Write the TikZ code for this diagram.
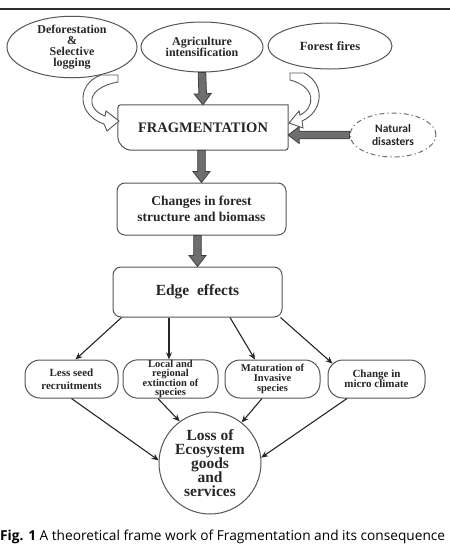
\documentclass[tikz,border=0pt]{standalone}
\usepackage{fontspec}
\setmainfont{Liberation Serif}
\newfontfamily\capfont{Open Sans}
\newfontfamily\natfont{Carlito}
\usetikzlibrary{shapes.geometric,arrows.meta,calc}
\setlength{\lineskiplimit}{-100pt}
\definecolor{ink}{HTML}{262626}
\definecolor{edgecol}{HTML}{555555}
\definecolor{blockfill}{HTML}{6E6E6E}
\definecolor{blockline}{HTML}{3F3F3F}
\definecolor{rulecol}{HTML}{2E2E2E}
\tikzset{
  oval/.style={ellipse, draw=edgecol, line width=1pt, inner sep=0pt, text=ink, align=center,
    font=\bfseries\fontsize{12}{10.8}\selectfont},
  natoval/.style={ellipse, draw=edgecol!85, line width=1pt, inner sep=0pt, text=ink, align=center,
    dash pattern=on 5pt off 3pt on 1.2pt off 3pt, font=\natfont\bfseries\fontsize{11.5}{13}\selectfont},
  plainbox/.style={rectangle, inner sep=0pt, text=ink, align=center},
  roundbox/.style={rectangle, rounded corners=8pt, draw=edgecol, line width=1pt, inner sep=0pt, text=ink, align=center},
  pill/.style={rectangle, rounded corners=15pt, draw=edgecol, line width=1pt, inner sep=0pt, text=ink, align=center,
    minimum height=38pt, font=\bfseries\fontsize{10.5}{9.6}\selectfont},
  thinarrow/.style={draw=ink, line width=1.1pt, -{Stealth[length=7pt,width=6pt]}},
  blockarrowstyle/.style={draw=blockline, fill=blockfill, line width=0.8pt, line join=miter},
  hollowarrow/.style={draw=edgecol, fill=white, line width=0.9pt, line join=miter},
  toprule/.style={draw=rulecol, line width=1.6pt}
}
\newcommand\blockarrow[2]{%
  \coordinate (ba-h) at ($(#2)!11pt!(#1)$);
  \draw[blockarrowstyle] ($(#1)!3.8pt!90:(#2)$) -- ($(ba-h)!3.8pt!90:(#2)$) -- ($(ba-h)!8.5pt!90:(#2)$)
    -- (#2) -- ($(ba-h)!8.5pt!-90:(#2)$) -- ($(ba-h)!3.8pt!-90:(#2)$) -- ($(#1)!3.8pt!-90:(#2)$) -- cycle;}
\begin{document}
\begin{tikzpicture}[x=1pt,y=-1pt]
\useasboundingbox (0,0) rectangle (450,547);
\coordinate (ruleL) at (0,9);
\coordinate (ruleR) at (450,9);
\draw[toprule] (ruleL) -- (ruleR);

% top causes
\node[oval, minimum width=130pt, minimum height=46pt] (defo) at (72,47) {Deforestation\\\&\\Selective\\logging};
\node[oval, minimum width=122pt, minimum height=50pt] (agri) at (202,47) {Agriculture\\intensification};
\node[oval, minimum width=124pt, minimum height=46pt, font=\bfseries\fontsize{12.5}{14}\selectfont] (fire) at (330,46) {Forest fires};
\node[natoval, minimum width=86pt, minimum height=44pt] (nat) at (393,135) {Natural\\disasters};

% fragmentation box
\node[plainbox, minimum width=170pt, minimum height=45pt, font=\bfseries\fontsize{14.5}{16}\selectfont] (frag) at (203,127.5) {FRAGMENTATION};
\draw[draw=edgecol, line width=1pt] (frag.north) -- (frag.north east) [rounded corners=3pt] -- (frag.south east)
  [rounded corners=14pt] -- (frag.south west) [rounded corners=3pt] -- (frag.north west) [rounded corners=14pt] -- cycle;

% chain
\node[roundbox, minimum width=169pt, minimum height=52pt, font=\bfseries\fontsize{13.5}{16}\selectfont] (chg) at (201.5,209) {Changes in forest\\structure and biomass};
\node[roundbox, minimum width=169pt, minimum height=50pt, font=\bfseries\fontsize{15.5}{17}\selectfont] (edge) at (197.5,292) {Edge\ \ effects};

% consequences
\node[pill, minimum width=93pt, font=\bfseries\fontsize{11}{13}\selectfont] (seed) at (71.5,379) {Less seed\\recruitments};
\node[pill, minimum width=95pt] (ext) at (170.5,379) {Local and\\regional\\extinction of\\species};
\node[pill, minimum width=95pt] (inv) at (272.5,379) {Maturation of\\Invasive\\species};
\node[pill, minimum width=97pt, font=\bfseries\fontsize{11}{10}\selectfont] (mic) at (376.5,379) {Change in\\micro climate};

\node[circle, draw=edgecol, line width=1pt, minimum size=102pt, inner sep=0pt, text=ink, align=center,
  font=\bfseries\fontsize{15.5}{14}\selectfont] (loss) at (210,463) {Loss of\\Ecosystem\\goods\\and\\services};

% block arrows
\coordinate (fragS) at (frag.south -| chg.north);
\coordinate (chgS) at (chg.south -| edge.north);
\coordinate (fragE) at (frag.east |- nat.west);
\blockarrow{agri.south}{frag.north}
\blockarrow{fragS}{chg.north}
\blockarrow{chgS}{edge.north}
\blockarrow{nat.west}{fragE}

% hollow curved arrows
\draw[hollowarrow] (118,75) -- (101,75) .. controls (76,84) and (77,115) .. (104,124) -- (107,131) -- (119,121)
  -- (106,111) -- (105,116) .. controls (86,109) and (85,88) .. (118,82) -- cycle;
\draw[hollowarrow] (290,73) -- (304,73) .. controls (326,84) and (323,112) .. (302,121) -- (303,128) -- (289,123)
  -- (299,111) -- (300,115) .. controls (315,108) and (317,87) .. (290,80) -- cycle;

% thin arrows
\draw[thinarrow] ([xshift=9pt]edge.south west) -- ([xshift=4pt]seed.north);
\draw[thinarrow] ([xshift=-28.5pt]edge.south) -- ([xshift=-1.5pt]ext.north);
\draw[thinarrow] ([xshift=32.5pt]edge.south) -- ([xshift=-17.5pt]inv.north);
\draw[thinarrow] ([xshift=-2pt]edge.south east) -- ([xshift=5pt,yshift=-4pt]mic.north west);

\draw[thinarrow] (seed.south) -- (loss.177);
\draw[thinarrow] ([xshift=-12.5pt]ext.south) -- (loss.126);
\draw[thinarrow] ([xshift=-10.5pt]inv.south) -- (loss.52);
\draw[thinarrow] ([xshift=-29.5pt]mic.south) -- (loss.6);

% caption
\node[anchor=base west, inner sep=0pt, text=black, font=\capfont\fontsize{13.7}{16}\selectfont] (cap) at (0,540)
  {\textbf{Fig. 1} A theoretical frame work of Fragmentation and its consequence};
\end{tikzpicture}
\end{document}
